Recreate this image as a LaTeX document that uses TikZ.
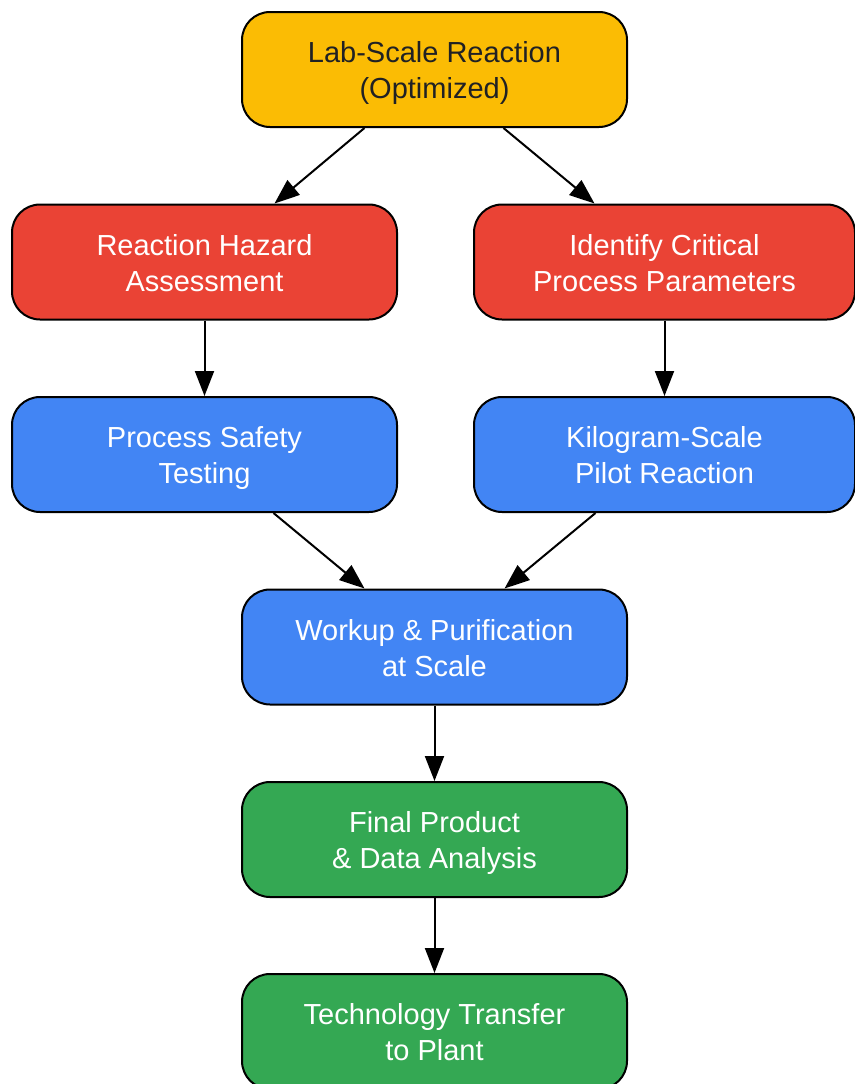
\documentclass[tikz,border=0pt]{standalone}
\usepackage{fontspec}
\setmainfont{Liberation Sans}
\usepackage{tikz}
\usetikzlibrary{arrows.meta}

\definecolor{labyellow}{HTML}{FBBC04}
\definecolor{hazred}{HTML}{EA4335}
\definecolor{procblue}{HTML}{4285F4}
\definecolor{prodgreen}{HTML}{34A853}
\definecolor{darktext}{HTML}{202124}

\begin{document}
\begin{tikzpicture}[x=1pt,y=-1pt]
			\tikzstyle{stage} = [rectangle, rounded corners=28pt, minimum width=385pt, minimum height=115pt, text centered, align=center, text height=58pt, text depth=0pt, draw=black, line width=2pt, text=white, font=\fontsize{29}{36}\selectfont]
			\tikzstyle{sidestage} = [stage, minimum width=381pt]
			\tikzstyle{arrow} = [line width=2pt,-{Triangle[length=25pt,width=19pt]}]

			\useasboundingbox (0,0) rectangle (854,1084);

			\node (lab) at (434.5,69.5) [stage, fill=labyellow, text=darktext] {Lab-Scale Reaction\\(Optimized)};
			\node (hazard) at (204.5,262) [stage, fill=hazred] {Reaction Hazard\\Assessment};
			\node (cpp) at (664.5,262) [sidestage, fill=hazred] {Identify Critical\\Process Parameters};
			\node (safety) at (204.5,454.5) [stage, fill=procblue] {Process Safety\\Testing};
			\node (pilot) at (664.5,454.5) [sidestage, fill=procblue] {Kilogram-Scale\\Pilot Reaction};
			\node (workup) at (434.5,647) [stage, fill=procblue] {Workup \& Purification\\at Scale};
			\node (final) at (434.5,839.5) [stage, fill=prodgreen] {Final Product\\\& Data Analysis};
			\node (transfer) at (434.5,1031.5) [stage, fill=prodgreen] {Technology Transfer\\to Plant};

			\draw [arrow] ([xshift=-70pt]lab.south) -- ([xshift=70pt]hazard.north);
			\draw [arrow] ([xshift=69pt]lab.south) -- ([xshift=-70pt]cpp.north);
			\draw [arrow] (hazard) -- (safety);
			\draw [arrow] (cpp) -- (pilot);
			\draw [arrow] ([xshift=69pt]safety.south) -- ([xshift=-70pt]workup.north);
			\draw [arrow] ([xshift=-69pt]pilot.south) -- ([xshift=70pt]workup.north);
			\draw [arrow] (workup) -- (final);
			\draw [arrow] (final) -- (transfer);

		\end{tikzpicture}
\end{document}
